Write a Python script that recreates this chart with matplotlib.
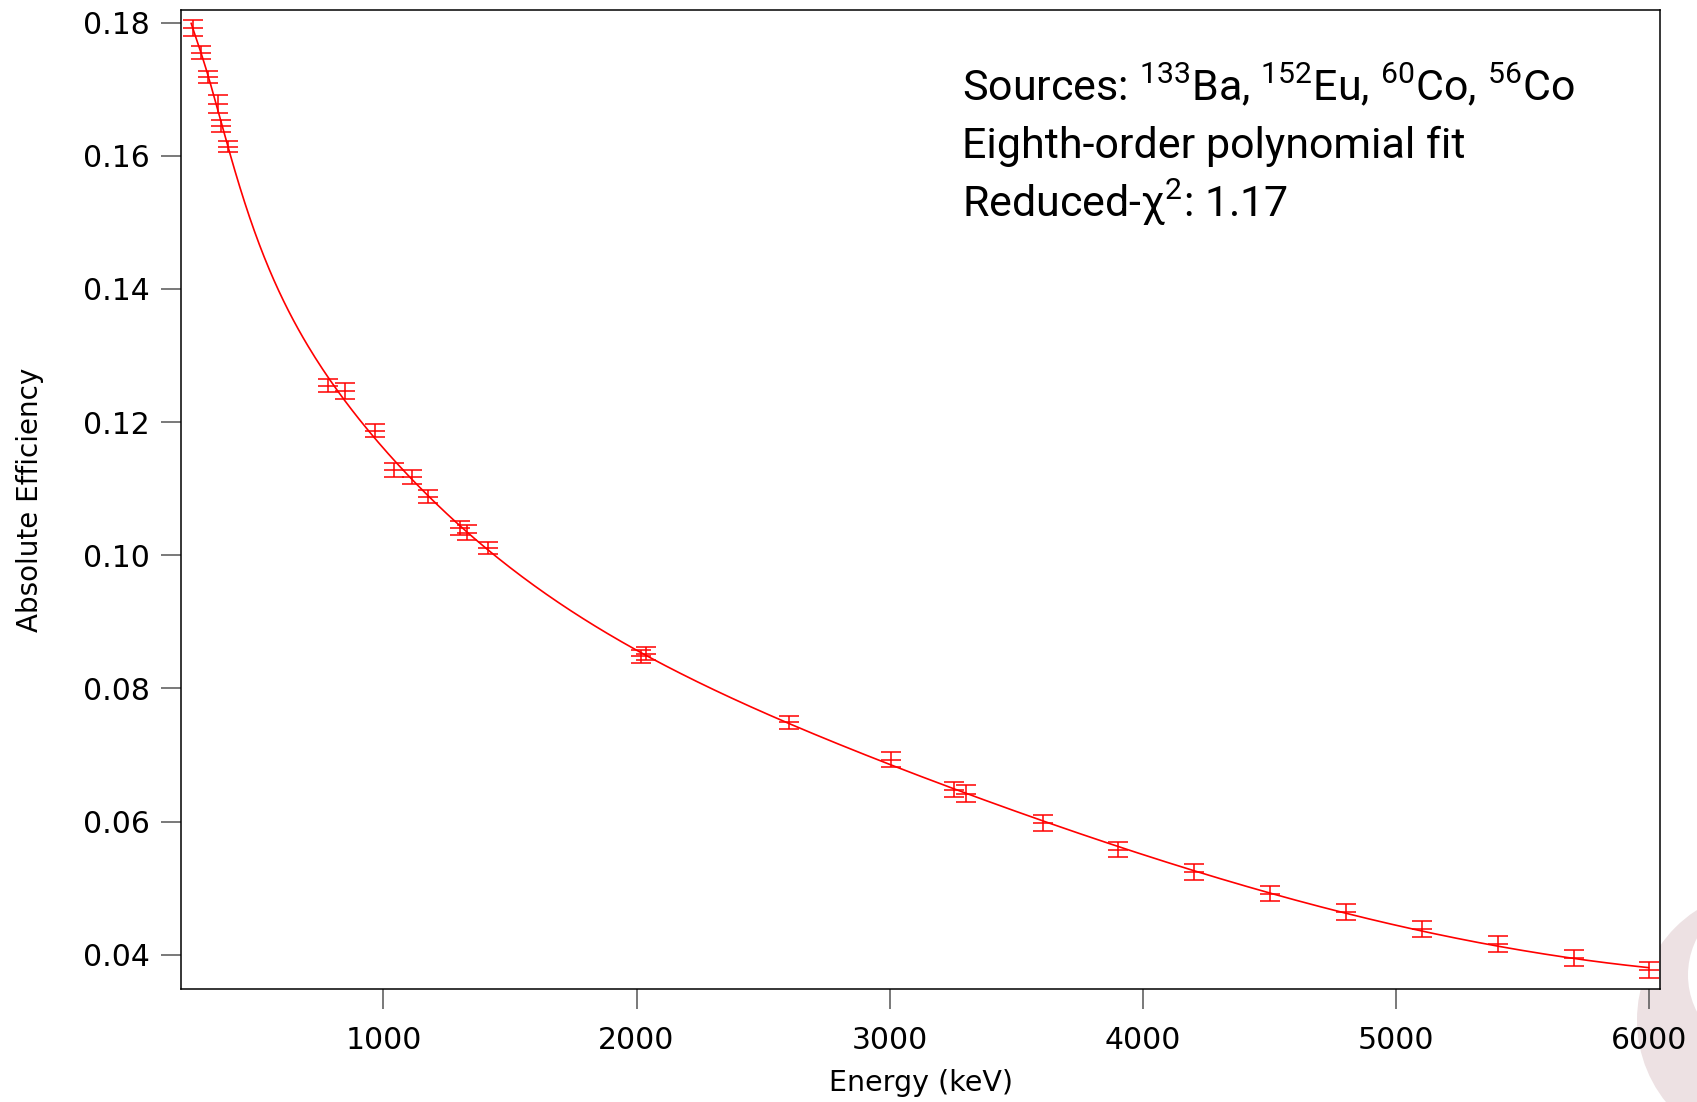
import numpy as np
import matplotlib.pyplot as plt
from matplotlib.patches import Circle

plt.rcParams['font.family'] = ['DejaVu Sans']
plt.rcParams['mathtext.fontset'] = 'custom'
plt.rcParams['mathtext.rm'] = 'Roboto'
plt.rcParams['mathtext.it'] = 'Roboto:italic'

# Measured full-energy peak efficiencies
energy_kev = [246, 279, 307, 347, 359, 386, 781, 849, 968, 1042, 1114, 1176,
              1304, 1330, 1412, 2018, 2038, 2603, 3004, 3256, 3304, 3605,
              3903, 4204, 4504, 4804, 5105, 5405, 5705, 6000]
efficiency = [0.1792, 0.1755, 0.1718, 0.1678, 0.1645, 0.1614, 0.1255, 0.1247,
              0.1187, 0.1128, 0.1118, 0.1088, 0.1041, 0.1034, 0.1011, 0.0848,
              0.0852, 0.0749, 0.0693, 0.0648, 0.0642, 0.0598, 0.0558, 0.0524,
              0.0492, 0.0464, 0.0439, 0.0416, 0.0395, 0.0377]
eff_err = [0.00116, 0.0010, 0.0009, 0.0014, 0.00095, 0.0008, 0.0010, 0.00117,
           0.0010, 0.0010, 0.00105, 0.0010, 0.00105, 0.0011, 0.00087, 0.0010,
           0.0010, 0.00093, 0.00117, 0.00108, 0.00125, 0.0012, 0.00117, 0.0012,
           0.00117, 0.00125, 0.0012, 0.00123, 0.00117, 0.00123]

x_ticks = [1000, 2000, 3000, 4000, 5000, 6000]
y_ticks = [0.04, 0.06, 0.08, 0.10, 0.12, 0.14, 0.16, 0.18]

E = np.array(energy_kev, dtype=float)
eff = np.array(efficiency)
err = np.array(eff_err)

# polynomial fit in log-log space, weighted by the uncertainties
coef = np.polyfit(np.log(E), np.log(eff), 8, w=eff / err)
e_fit = np.linspace(240, 6000, 600)
eff_fit = np.exp(np.polyval(coef, np.log(e_fit)))

fig = plt.figure(figsize=(16.97, 11.02), dpi=100)

# faint logo ring in the lower right corner
bg = fig.add_axes([0, 0, 1, 1], zorder=0)
bg.set_xlim(0, 1697)
bg.set_ylim(1102, 0)
bg.set_aspect('equal')
bg.axis('off')
bg.add_patch(Circle((1768, 1020), 131, color='#ede1e3', lw=0))
bg.add_patch(Circle((1768, 975), 80, color='white', lw=0))

ax = fig.add_axes([0.1067, 0.1025, 0.8715, 0.8884], zorder=1)
ax.set_facecolor('white')

ax.plot(e_fit, eff_fit, color='red', lw=1.2)
ax.errorbar(E, eff, yerr=err, fmt='_', color='red', ecolor='red',
            elinewidth=1.1, capsize=7.5, capthick=1.1, markersize=15,
            markeredgewidth=1.1)

ax.set_xlim(200, 6045)
ax.set_ylim(0.03485, 0.1819)
ax.set_xticks(x_ticks)
ax.set_yticks(y_ticks)
ax.set_yticklabels([f'{v:.2f}' for v in y_ticks])

ax.tick_params(axis='both', direction='out', length=14.5, width=1.1,
               color='#555555', labelsize=21.5)
ax.tick_params(axis='x', pad=12)
ax.tick_params(axis='y', pad=8)
for s in ax.spines.values():
    s.set_linewidth(1.1)
    s.set_color('black')

ax.set_xlabel('Energy (keV)', fontsize=20.5, labelpad=10)
ax.set_ylabel('Absolute Efficiency', fontsize=20, labelpad=28)

# fit summary
txt = dict(transform=ax.transAxes, fontsize=31, ha='left', va='baseline',
           family='Roboto')
ax.text(0.528, 0.9075, r'Sources: $\mathregular{^{133}}$Ba, $\mathregular{^{152}}$Eu, '
        r'$\mathregular{^{60}}$Co, $\mathregular{^{56}}$Co', **txt)
ax.text(0.528, 0.8488, 'Eighth-order polynomial fit', **txt)
ax.text(0.528, 0.7891, r'Reduced-χ$\mathregular{^{2}}$: 1.17', **txt)

plt.savefig('out.png', dpi=100)
plt.close()
